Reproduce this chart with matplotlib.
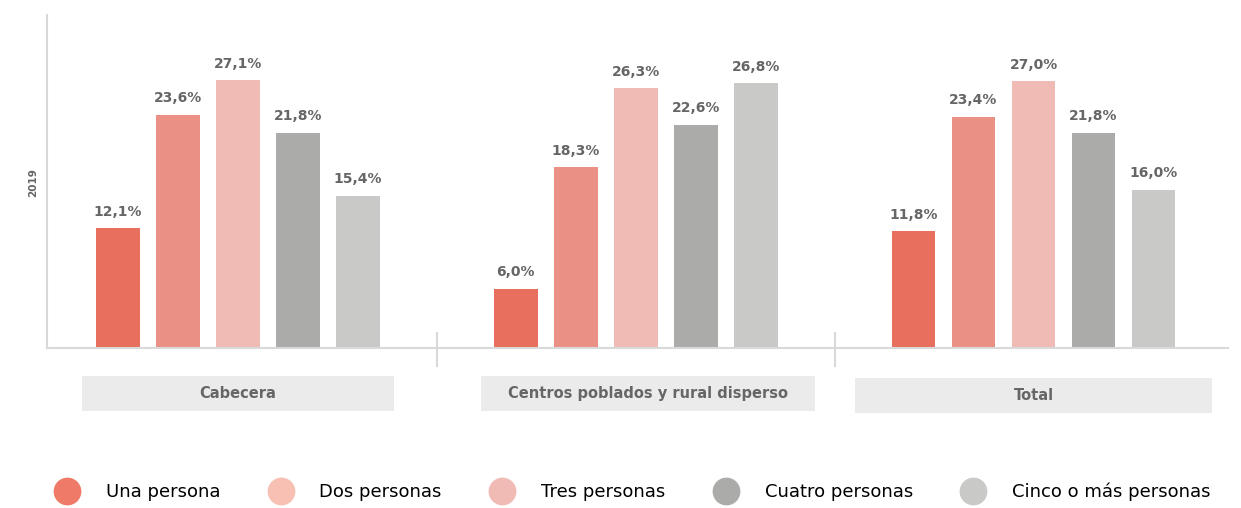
import numpy as np
import matplotlib
matplotlib.use("Agg")
import matplotlib.pyplot as plt
from matplotlib.patches import Rectangle
from matplotlib.lines import Line2D
import matplotlib.transforms as mtransforms

groups = ["Cabecera", "Centros poblados y rural disperso", "Total"]
series = ["Una persona", "Dos personas", "Tres personas", "Cuatro personas", "Cinco o más personas"]
cabecera = [12.1, 23.6, 27.1, 21.8, 15.4]
centros = [6.0, 18.3, 26.3, 22.6, 26.8]
total = [11.8, 23.4, 27.0, 21.8, 16.0]
year_label = "2019"

bar_colors = ["#e86f5d", "#ea9085", "#f0bab5", "#ababa9", "#c9c9c7"]
legend_colors = ["#ef7a68", "#f7c0b3", "#f0bab5", "#ababa9", "#c9c9c7"]
txt_gray = "#666666"
line_gray = "#d9d9d9"

values = [cabecera, centros, total]

fig = plt.figure(figsize=(12.41, 5.08), dpi=100)
ax = fig.add_axes([47 / 1241, 1 - 348 / 508, (1228 - 47) / 1241, (348 - 15) / 508])

gap = 6.63
width = 0.73
for g, vals in enumerate(values):
    for i, v in enumerate(vals):
        x = g * gap + (i - 2)
        ax.bar(x, v, width=width, color=bar_colors[i], zorder=2)
        ax.annotate(f"{v:.1f}%".replace(".", ","), (x, v), xytext=(0, 9),
                    textcoords="offset points", ha="center", va="baseline",
                    fontsize=10, fontweight="bold", color=txt_gray)

ax.set_xlim(-3.18, 16.5)
ax.set_ylim(0, 33.7)
for s in ["top", "right"]:
    ax.spines[s].set_visible(False)
for s in ["left", "bottom"]:
    ax.spines[s].set_color(line_gray)
    ax.spines[s].set_linewidth(1.5)
ax.set_xticks([])
ax.set_yticks([])

# separators between groups
trans = mtransforms.blended_transform_factory(ax.transData, ax.transAxes)
for k in [0.5, 1.5]:
    ax.plot([k * gap, k * gap], [0.045, -0.054], color=line_gray, lw=1.5,
            transform=trans, clip_on=False)

# category boxes
box_half = [2.6, 2.78, 2.98]
box_shift = [0.0, 0.2, 0.0]
box_y = [-0.189, -0.189, -0.195]
for g, name in enumerate(groups):
    cx = g * gap + box_shift[g]
    ax.add_patch(Rectangle((cx - box_half[g], box_y[g]), 2 * box_half[g], 0.105,
                           transform=trans, facecolor="#ebebeb", edgecolor="none",
                           clip_on=False))
    ax.text(cx, box_y[g] + 0.0525, name, transform=trans, ha="center", va="center",
            fontsize=10.5, fontweight="bold", color=txt_gray)

fig.text(33 / 1241, 1 - 183 / 508, year_label, rotation=90, ha="center", va="center",
         fontsize=7.5, fontweight="bold", color=txt_gray)

handles = [Line2D([], [], marker="o", linestyle="none", markersize=20,
                  markerfacecolor=c, markeredgecolor="none") for c in legend_colors]
fig.legend(handles, series, loc="center", bbox_to_anchor=(632 / 1241, 1 - 492 / 508),
           ncol=5, frameon=False, fontsize=13, handlelength=1.5, handletextpad=1.4,
           columnspacing=2.6, borderpad=0)

fig.savefig("out.png", dpi=100)
